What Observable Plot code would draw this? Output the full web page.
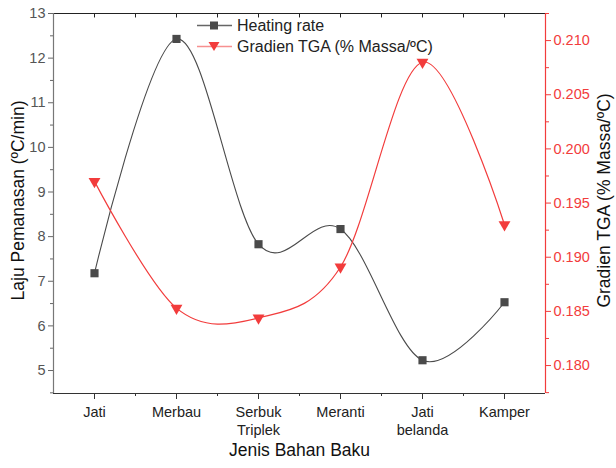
<!DOCTYPE html>
<html>
<head>
<meta charset="utf-8">
<script src="https://cdn.jsdelivr.net/npm/d3@7"></script>
<script src="https://cdn.jsdelivr.net/npm/@observablehq/plot@0.6"></script>
<style>
  body { margin: 0; background: #fff; font-family: "Liberation Sans", Arial, sans-serif; }
  #wrap { position: relative; width: 616px; height: 468px; }
  #legend { position: absolute; left: 196px; top: 15px; font-size: 16px; color: #222; line-height: 21px; }
  #legend .row { display: flex; align-items: center; height: 21px; }
  #legend svg { margin-right: 4px; }
</style>
</head>
<body>
<div id="wrap"></div>
<script>
const categories = ["Jati", "Merbau", "Serbuk\nTriplek", "Meranti", "Jati\nbelanda", "Kamper"];
const heatingRate = [7.18, 12.43, 7.83, 8.17, 5.23, 6.53];
const gradienTGA = [0.197, 0.1853, 0.1844, 0.1891, 0.208, 0.193];
const leftTicks = [5, 6, 7, 8, 9, 10, 11, 12, 13];
const rightTicks = [0.180, 0.185, 0.190, 0.195, 0.200, 0.205, 0.210];
const seriesNames = ["Heating rate", "Gradien TGA (% Massa/ºC)"];

const hDomain = [4.485, 13];
const rDomain = [0.17742, 0.2125];
const r2h = d3.scaleLinear().domain(rDomain).range(hDomain);

const black = "#4a4a4a";
const red = "#f23c3c";

const data = categories.map((c, i) => ({i, c, h: heatingRate[i], r: gradienTGA[i], rh: r2h(gradienTGA[i])}));
const xIdx = categories.map((_, i) => i);
const xMinor = d3.range(-0.5, categories.length, 1);
const leftMinor = d3.range(4.5, 13.01, 0.5).filter(v => !Number.isInteger(v));
const rightMinor = d3.range(0.1775, 0.2126, 0.005).map(r2h);
const topTicks = d3.range(-0.5, categories.length, 0.5).filter(v => v > -0.5 && v < categories.length - 0.5);

const chart = Plot.plot({
  width: 616,
  height: 468,
  marginLeft: 53,
  marginRight: 71,
  marginTop: 13,
  marginBottom: 75,
  style: {fontFamily: "Liberation Sans, Arial, sans-serif", background: "#fff"},
  x: {type: "linear", domain: [-0.5, categories.length - 0.5]},
  y: {domain: hDomain},
  marks: [
    // frame
    Plot.ruleY([13], {stroke: "#222", strokeWidth: 1.2}),
    Plot.ruleX(topTicks, {y1: 13, y2: 13 - 0.1, stroke: "#222"}),
    // x axis
    Plot.axisX({ticks: xIdx, tickSize: 6, tickFormat: i => categories[i], fontSize: 14.5, lineHeight: 1.28, fill: "#222", tickPadding: 4, stroke: "#333", label: null}),
    Plot.axisX({ticks: xMinor.slice(1, -1), tickSize: 3, text: null, stroke: "#333", label: null}),
    Plot.ruleY([hDomain[0]], {stroke: "#333", strokeWidth: 1.2}),
    // left axis
    Plot.axisY({ticks: leftTicks, tickSize: 5, tickPadding: 3, fontSize: 14.5, fill: "#555", stroke: "#666", label: null}),
    Plot.axisY({ticks: leftMinor, tickSize: 3, text: null, stroke: "#666", label: null}),
    Plot.ruleX([-0.5], {stroke: "#777", strokeWidth: 1.2}),
    // right axis
    Plot.axisY({anchor: "right", ticks: rightTicks.map(r2h), tickSize: 5, tickPadding: 3, fontSize: 14.5, fill: red, stroke: red, label: null,
      tickFormat: d => d3.format(".3f")(r2h.invert(d))}),
    Plot.axisY({anchor: "right", ticks: rightMinor, tickSize: 3, text: null, stroke: red, label: null}),
    Plot.ruleX([categories.length - 0.5], {stroke: red, strokeWidth: 1.2}),
    // axis titles
    Plot.text(["Laju Pemanasan (ºC/min)"], {frameAnchor: "left", textAnchor: "middle", dx: -35, dy: -3, rotate: -90, fontSize: 17.5, fill: "#111"}),
    Plot.text(["Gradien TGA (% Massa/ºC)"], {frameAnchor: "right", textAnchor: "middle", dx: 59, dy: -3, rotate: -90, fontSize: 17.5, fill: "#111"}),
    Plot.text(["Jenis Bahan Baku"], {frameAnchor: "bottom", dy: 62, fontSize: 17.5, fill: "#111"}),
    // series
    Plot.line(data, {x: "i", y: "h", curve: "cardinal", stroke: black, strokeWidth: 1.1}),
    Plot.line(data, {x: "i", y: "rh", curve: "cardinal", stroke: red, strokeWidth: 1.2}),
    Plot.dot(data, {x: "i", y: "h", symbol: "square", r: 4.6, fill: black, stroke: "none"}),
    Plot.dot(data, {x: "i", y: "rh", symbol: "triangle", rotate: 180, r: 4.4, fill: red, stroke: "none"})
  ]
});

const wrap = document.getElementById("wrap");
wrap.appendChild(chart);

const legend = document.createElement("div");
legend.id = "legend";
const mk = (name, color, lineColor, shape) => {
  const row = document.createElement("div");
  row.className = "row";
  const shapeSvg = shape === "square"
    ? `<rect x="14" y="6.5" width="8" height="8" fill="${color}"/>`
    : `<path d="M12.5,6 L23.5,6 L18,15 Z" fill="${color}"/>`;
  row.innerHTML = `<svg width="37" height="21"><line x1="1" x2="36" y1="10.5" y2="10.5" stroke="${lineColor}" stroke-width="1.4"/>${shapeSvg}</svg><span>${name}</span>`;
  legend.appendChild(row);
};
mk(seriesNames[0], black, "#666", "square");
mk(seriesNames[1], red, "#f79090", "triangle");
wrap.appendChild(legend);
</script>
</body>
</html>
